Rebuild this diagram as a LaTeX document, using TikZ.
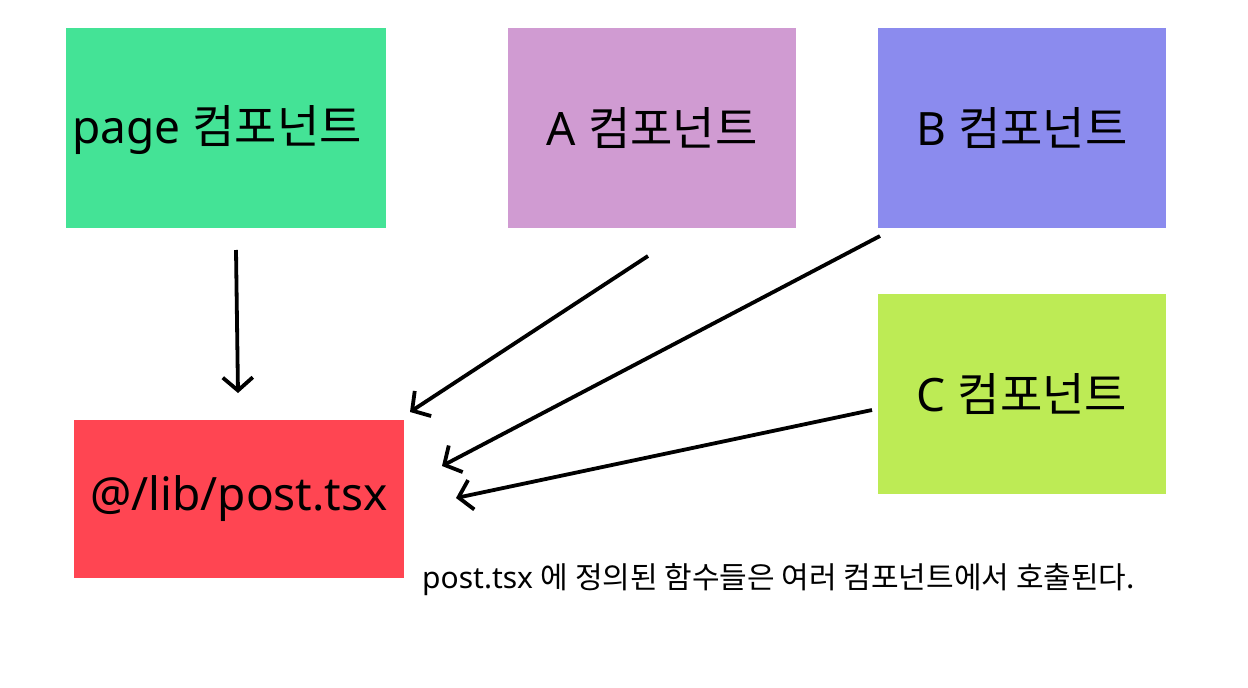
\documentclass[tikz,border=0pt]{standalone}
\usepackage{fontspec}
\setmainfont{Noto Sans}
\newfontfamily\kr{Noto Sans CJK KR}
\usetikzlibrary{arrows.meta}
\definecolor{cpage}{HTML}{44E396}
\definecolor{ca}{HTML}{D09BD2}
\definecolor{cb}{HTML}{8B8BEE}
\definecolor{cc}{HTML}{BDEB55}
\definecolor{clib}{HTML}{FF4552}
\tikzset{
  lbl/.style={font=\fontsize{46}{50}\selectfont},
  box/.style={fill=#1, draw=none, inner sep=0pt, lbl},
  conn/.style={line width=3.8pt, -{Straight Barb[length=13pt,width=30pt,line width=3.8pt]}},
  note/.style={font=\fontsize{30}{34}\selectfont, anchor=west, inner sep=0pt}
}
\begin{document}
\begin{tikzpicture}[x=1pt,y=-1pt]
\useasboundingbox (0,0) rectangle (1248,688);
\fill[white] (0,0) rectangle (1248,688);
\node[box=cpage, minimum width=320pt, minimum height=200pt] (page) at (226,128) {};
\node[lbl] (pagelbl) at (217,130) {page {\kr 컴포넌트}};
\node[box=ca, minimum width=288pt, minimum height=200pt] (a) at (652,128) {A {\kr 컴포넌트}};
\node[box=cb, minimum width=288pt, minimum height=200pt] (b) at (1022,128) {B {\kr 컴포넌트}};
\node[box=cc, minimum width=288pt, minimum height=200pt] (c) at (1022,394) {C {\kr 컴포넌트}};
\node[box=clib, minimum width=330pt, minimum height=158pt] (lib) at (239,499) {@/lib/post.tsx};
\node[note] (cap) at (422,580) {post.tsx {\kr 에 정의된 함수들은 여러 컴포넌트에서 호출된다.}};
\coordinate (p1) at (236,250);
\coordinate (q1) at (238,393);
\coordinate (p2) at (648,256);
\coordinate (q2) at (410,412);
\coordinate (p3) at (880,236);
\coordinate (q3) at (442,466);
\coordinate (p4) at (872,410);
\coordinate (q4) at (456,498);
\draw[conn] (p1) -- (q1);
\draw[conn] (p2) -- (q2);
\draw[conn] (p3) -- (q3);
\draw[conn] (p4) -- (q4);
\end{tikzpicture}
\end{document}
